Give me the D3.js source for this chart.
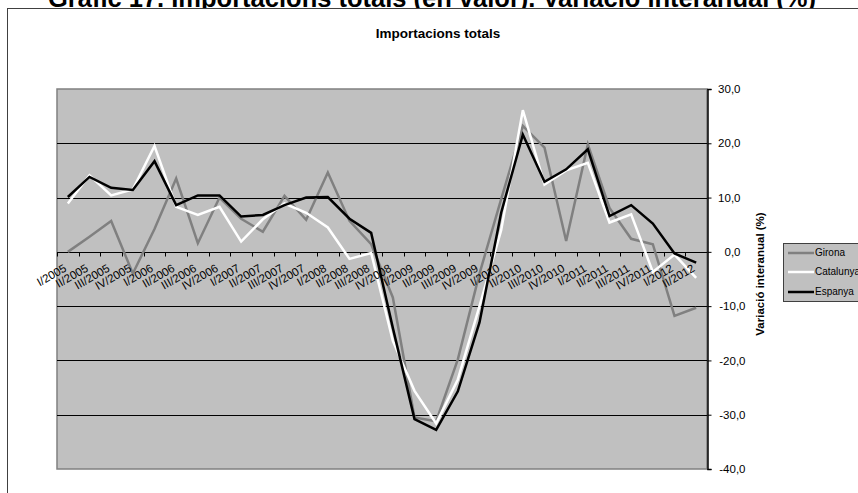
<!DOCTYPE html>
<html>
<head>
<meta charset="utf-8">
<script src="https://cdn.jsdelivr.net/npm/d3@7"></script>
<style>
  html, body { margin: 0; padding: 0; background: #ffffff; }
  svg { display: block; font-family: "Liberation Sans", Arial, sans-serif; }
</style>
</head>
<body>
<svg id="chart" width="858" height="493"></svg>
<script>
const categories = ["I/2005","II/2005","III/2005","IV/2005","I/2006","II/2006","III/2006","IV/2006",
  "I/2007","II/2007","III/2007","IV/2007","I/2008","II/2008","III/2008","IV/2008",
  "I/2009","II/2009","III/2009","IV/2009","I/2010","II/2010","III/2010","IV/2010",
  "I/2011","II/2011","III/2011","IV/2011","I/2012","II/2012"];

const girona    = [0.0, 2.8, 5.7, -4.0, 4.2, 13.5, 1.6, 10.0, 6.1, 3.7, 10.3, 5.9, 14.6, 5.7, 1.4, -8.4,
  -30.5, -31.2, -19.8, -4.0, 9.7, 23.2, 19.2, 2.0, 19.8, 8.1, 2.4, 1.4, -11.8, -10.3];
const catalunya = [8.9, 14.1, 10.4, 11.5, 19.5, 8.3, 6.8, 8.3, 1.9, 6.0, 8.9, 7.2, 4.5, -1.3, -0.2, -16.4,
  -25.6, -31.6, -23.5, -10.0, 4.0, 26.1, 12.4, 15.0, 16.4, 5.4, 6.9, -3.7, -0.5, -4.8];
const espanya   = [10.1, 13.8, 11.8, 11.4, 16.7, 8.6, 10.4, 10.4, 6.5, 6.8, 8.6, 10.0, 10.1, 6.1, 3.5, -14.0,
  -30.8, -32.8, -25.7, -13.0, 7.2, 21.6, 12.9, 15.2, 18.9, 6.6, 8.6, 5.2, -0.3, -2.0];

const seriesNames  = ["Girona", "Catalunya", "Espanya"];
const seriesColors = ["#808080", "#ffffff", "#000000"];
const seriesData   = [girona, catalunya, espanya];

const yTicks = [-40, -30, -20, -10, 0, 10, 20, 30];
const gridValues = [-30, -20, -10, 10, 20];

const mainTitle = "Gràfic 17. Importacions totals (en valor). Variació interanual (%)";
const subTitle = "Importacions totals";
const yTitle = "Variació interanual (%)";

const svg = d3.select("#chart");
const L = 57, R = 707, T = 89, B = 469;

const x = d3.scaleBand().domain(categories).range([L, R]).padding(0);
const cx = c => x(c) + x.bandwidth() / 2;
const y = d3.scaleLinear().domain([-40, 30]).range([B, T]);

// Title (cut at top)
svg.append("text").attr("x", 432).attr("y", 6.5).attr("text-anchor", "middle")
  .attr("font-size", 25.5).attr("font-weight", "bold").attr("fill", "#000").text(mainTitle);

// Chart area border
svg.append("rect").attr("x", 7.5).attr("y", 8.5).attr("width", 900).attr("height", 600)
  .attr("fill", "#fff").attr("stroke", "#404040").attr("stroke-width", 1);

// Subtitle
svg.append("text").attr("x", 438).attr("y", 37.5).attr("text-anchor", "middle")
  .attr("font-size", 13.5).attr("font-weight", "bold").text(subTitle);

// Plot background
svg.append("rect").attr("x", L).attr("y", T).attr("width", R - L).attr("height", B - T)
  .attr("fill", "#c0c0c0").attr("stroke", "#808080").attr("stroke-width", 1.5);

// Gridlines
svg.append("g").selectAll("line").data(gridValues).join("line")
  .attr("x1", L).attr("x2", R).attr("y1", d => Math.round(y(d)) + 0.5).attr("y2", d => Math.round(y(d)) + 0.5)
  .attr("stroke", "#000").attr("stroke-width", 1);

// X axis line at 0 with ticks at category boundaries
const y0 = Math.round(y(0)) + 0.5;
svg.append("line").attr("x1", L).attr("x2", R).attr("y1", y0).attr("y2", y0)
  .attr("stroke", "#000").attr("stroke-width", 1);
svg.append("g").selectAll("line").data(categories).join("line")
  .attr("x1", d => Math.round(x(d)) + 0.5).attr("x2", d => Math.round(x(d)) + 0.5)
  .attr("y1", y0).attr("y2", y0 + 4).attr("stroke", "#000");

// Series lines
const line = d3.line().x((d, i) => cx(categories[i])).y(d => y(d));
seriesData.forEach((data, k) => {
  svg.append("path").datum(data).attr("d", line)
    .attr("fill", "none").attr("stroke", seriesColors[k]).attr("stroke-width", 2.5)
    .attr("stroke-linejoin", "miter");
});

// X labels
svg.append("g").selectAll("text").data(categories).join("text")
  .attr("transform", d => `translate(${cx(d) - 0.5},${y0 + 18}) rotate(-30)`)
  .attr("text-anchor", "end").attr("font-size", 11.5).attr("fill", "#000").text(d => d);

// Right y axis
const fmt = d => d3.format(".1f")(d).replace("−", "-").replace(".", ",");
const yAxis = svg.append("g").attr("transform", `translate(${R + 0.5},0)`)
  .call(d3.axisRight(y).tickValues(yTicks).tickSize(4).tickFormat(fmt));
yAxis.select(".domain").attr("stroke", "#000").attr("stroke-width", 1.5);
yAxis.selectAll(".tick line").attr("stroke", "#000");
yAxis.selectAll(".tick text")
  .attr("font-size", 11.5).attr("font-family", "'Liberation Sans', Arial, sans-serif")
  .attr("text-anchor", "end")
  .attr("x", d => d < 0 ? 38 : 33);

// Y axis title
svg.append("text").attr("transform", "translate(761,274) rotate(-90)")
  .attr("text-anchor", "middle").attr("dominant-baseline", "middle")
  .attr("font-size", 11.5).attr("font-weight", "bold").text(yTitle);

// Legend
const lg = svg.append("g");
lg.append("rect").attr("x", 783.5).attr("y", 243.5).attr("width", 100).attr("height", 58)
  .attr("fill", "#c0c0c0").attr("stroke", "#404040").attr("stroke-width", 1);
const legendY = [253, 272, 292];
seriesNames.forEach((name, k) => {
  lg.append("line").attr("x1", 788).attr("x2", 814).attr("y1", legendY[k]).attr("y2", legendY[k])
    .attr("stroke", seriesColors[k]).attr("stroke-width", 2.5);
  lg.append("text").attr("x", 815).attr("y", legendY[k]).attr("dominant-baseline", "middle")
    .attr("font-size", 10).text(name);
});
</script>
</body>
</html>
